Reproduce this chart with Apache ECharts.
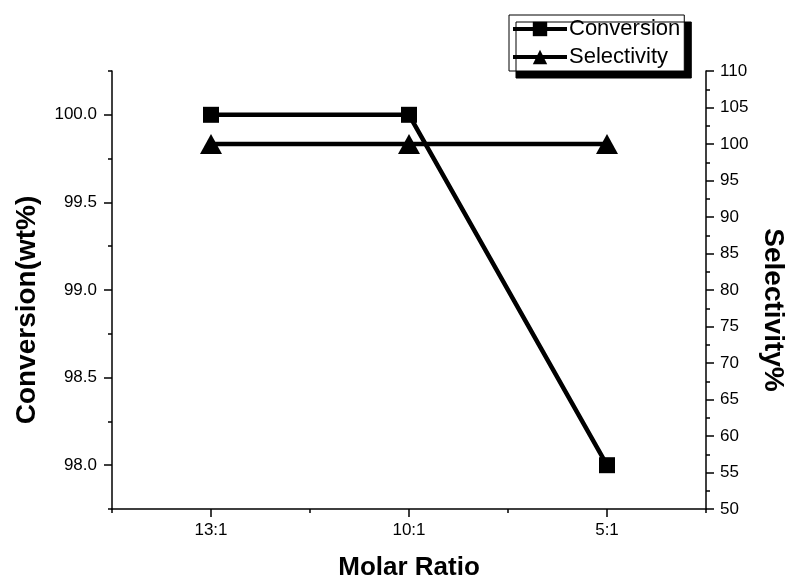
<!DOCTYPE html>
<html>
<head>
<meta charset="utf-8">
<script src="https://cdn.jsdelivr.net/npm/echarts@6/dist/echarts.min.js"></script>
<style>
html, body { margin: 0; background: #fff; }
#main { width: 787px; height: 580px; }
</style>
</head>
<body>
<div id="main"></div>
<script>
// 数据
var ratios = ['13:1', '10:1', '5:1'];
var ratioPos = [1, 2, 3];
var conversion = [100.0, 100.0, 98.0];
var selectivity = [100, 100, 100];
var convLabels = [98.0, 98.5, 99.0, 99.5, 100.0];

var myChart = echarts.init(document.getElementById('main'));
var font = 'Liberation Sans, Arial, sans-serif';
var black = {color: '#000', width: 1.5};
var titleStyle = {fontSize: 26, fontWeight: 'bold', color: '#000', fontFamily: font};
var sideTitle = {fontSize: 28, fontWeight: 'bold', color: '#000', fontFamily: font};

function pairs(ys) {
	var out = [];
	for (var i = 0; i < ys.length; i++) out.push([ratioPos[i], ys[i]]);
	return out;
}

var option = {
	backgroundColor: '#fff',
	animation: false,
	textStyle: {fontFamily: font},
	legend: {
		orient: 'vertical',
		left: 509,
		top: 15,
		padding: [3, 4, 3, 2],
		itemGap: 6,
		itemWidth: 54,
		itemHeight: 18,
		backgroundColor: '#fff',
		borderColor: '#000',
		borderWidth: 1,
		shadowColor: '#000',
		shadowBlur: 0,
		shadowOffsetX: 7,
		shadowOffsetY: 7,
		lineStyle: {color: '#000', width: 4},
		textStyle: {fontSize: 22, color: '#000', fontFamily: font, padding: [0, 0, 0, -3]},
		data: ['Conversion', 'Selectivity']
	},
	grid: {left: 112, right: 81, top: 71, bottom: 71, containLabel: false, outerBoundsMode: 'none'},
	xAxis: [
		{
			type: 'value', min: 0.5, max: 3.5, interval: 0.5, position: 'bottom',
			axisLine: {lineStyle: black},
			axisTick: {length: 4, lineStyle: black},
			axisLabel: {show: false},
			splitLine: {show: false},
			name: 'Molar Ratio', nameLocation: 'middle', nameGap: 46,
			nameTextStyle: titleStyle
		},
		{
			type: 'value', min: 0.5, max: 3.5, position: 'bottom',
			axisLine: {show: false},
			axisTick: {customValues: ratioPos, length: 8, lineStyle: black},
			axisLabel: {
				customValues: ratioPos, margin: 13, fontSize: 17, color: '#000', fontFamily: font,
				formatter: function (v) { return ratios[ratioPos.indexOf(v)]; }
			},
			splitLine: {show: false}
		}
	],
	yAxis: [
		{
			type: 'value', min: 97.75, max: 100.25, interval: 0.25, position: 'left',
			axisLine: {show: true, lineStyle: black},
			axisTick: {length: 4, lineStyle: black},
			axisLabel: {show: false},
			splitLine: {show: false}
		},
		{
			type: 'value', min: 50, max: 110, interval: 5, position: 'right',
			axisLine: {show: true, lineStyle: black},
			axisTick: {length: 8, lineStyle: black},
			minorTick: {show: true, splitNumber: 2, length: 4, lineStyle: black},
			axisLabel: {margin: 14, fontSize: 17, color: '#000', fontFamily: font},
			splitLine: {show: false},
			name: 'Selectivity%', nameLocation: 'middle', nameRotate: -90, nameGap: 53,
			nameMoveOverlap: false,
			nameTextStyle: Object.assign({padding: [0, 0, 0, 40]}, sideTitle)
		},
		{
			type: 'value', min: 97.75, max: 100.25, position: 'left',
			axisLine: {show: false},
			axisTick: {customValues: convLabels, length: 8, lineStyle: black},
			axisLabel: {
				customValues: convLabels, margin: 15, fontSize: 17, color: '#000', fontFamily: font,
				formatter: function (v) { return v.toFixed(1); }
			},
			splitLine: {show: false},
			name: 'Conversion(wt%)', nameLocation: 'middle', nameGap: 71,
			nameMoveOverlap: false,
			nameTextStyle: Object.assign({padding: [0, 40, 0, 0]}, sideTitle)
		}
	],
	series: [
		{
			name: 'Conversion',
			type: 'line',
			xAxisIndex: 0,
			yAxisIndex: 0,
			data: pairs(conversion),
			symbol: 'rect',
			symbolSize: 16,
			itemStyle: {color: '#000'},
			lineStyle: {color: '#000', width: 4.5}
		},
		{
			name: 'Selectivity',
			type: 'line',
			xAxisIndex: 0,
			yAxisIndex: 1,
			data: pairs(selectivity),
			symbol: 'triangle',
			symbolSize: [22, 20],
			itemStyle: {color: '#000'},
			lineStyle: {color: '#000', width: 4.5}
		}
	]
};

myChart.setOption(option);
</script>
</body>
</html>
